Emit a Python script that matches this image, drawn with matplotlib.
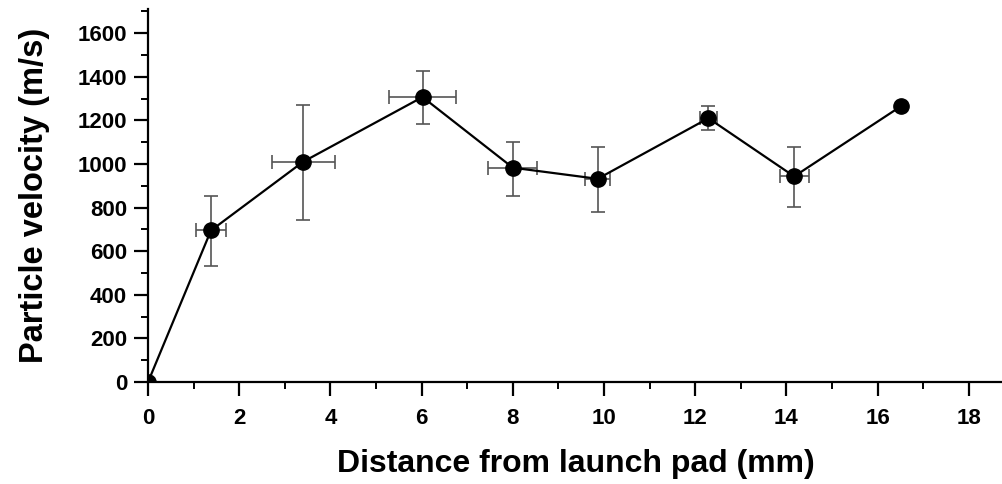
import numpy as np
import matplotlib.pyplot as plt
from matplotlib.ticker import MultipleLocator

plt.rcParams['font.family'] = ['Liberation Sans', 'DejaVu Sans']
plt.rcParams['font.weight'] = 'bold'

# data
distance = [0.0, 1.38, 3.40, 6.02, 8.00, 9.86, 12.29, 14.17, 16.52]
velocity = [0, 695, 1010, 1307, 983, 932, 1210, 943, 1266]
x_err = [0.0, 0.33, 0.69, 0.74, 0.54, 0.28, 0.18, 0.32, 0.0]
y_err_up = [0, 160, 262, 120, 120, 148, 56, 137, 0]
y_err_dn = [0, 165, 265, 123, 128, 150, 53, 142, 0]

fig = plt.figure(figsize=(10.03, 4.84), dpi=100)
ax = fig.add_axes([0.1476, 0.2107, 0.8524, 0.7703])

# error bars (skip first and last point, no bars there)
ax.errorbar(distance[1:-1], velocity[1:-1], xerr=x_err[1:-1],
            yerr=[y_err_dn[1:-1], y_err_up[1:-1]], fmt='none',
            ecolor='#555555', elinewidth=1.2, capsize=5, capthick=1.2, zorder=2)
ax.plot(distance, velocity, color='black', lw=1.6, marker='o',
        markersize=11, zorder=3)

ax.set_xlim(0, 18.75)
ax.set_ylim(0, 1710)
ax.xaxis.set_major_locator(MultipleLocator(2))
ax.xaxis.set_minor_locator(MultipleLocator(1))
ax.yaxis.set_major_locator(MultipleLocator(200))
ax.yaxis.set_minor_locator(MultipleLocator(100))

for s in ['top', 'right']:
    ax.spines[s].set_visible(False)
for s in ['left', 'bottom']:
    ax.spines[s].set_linewidth(1.6)

ax.tick_params(which='major', length=10, width=1.6, labelsize=16)
ax.tick_params(which='minor', length=5, width=1.4)
ax.tick_params(axis='y', which='major', pad=5)
ax.tick_params(axis='x', which='major', pad=9)
for lab in ax.get_xticklabels() + ax.get_yticklabels():
    lab.set_fontweight('bold')

ax.set_xlabel('Distance from launch pad (mm)', fontsize=23, fontweight='bold', labelpad=14)
ax.set_ylabel('Particle velocity (m/s)', fontsize=23.5, fontweight='bold', labelpad=20)

plt.savefig('out.png', dpi=100)
